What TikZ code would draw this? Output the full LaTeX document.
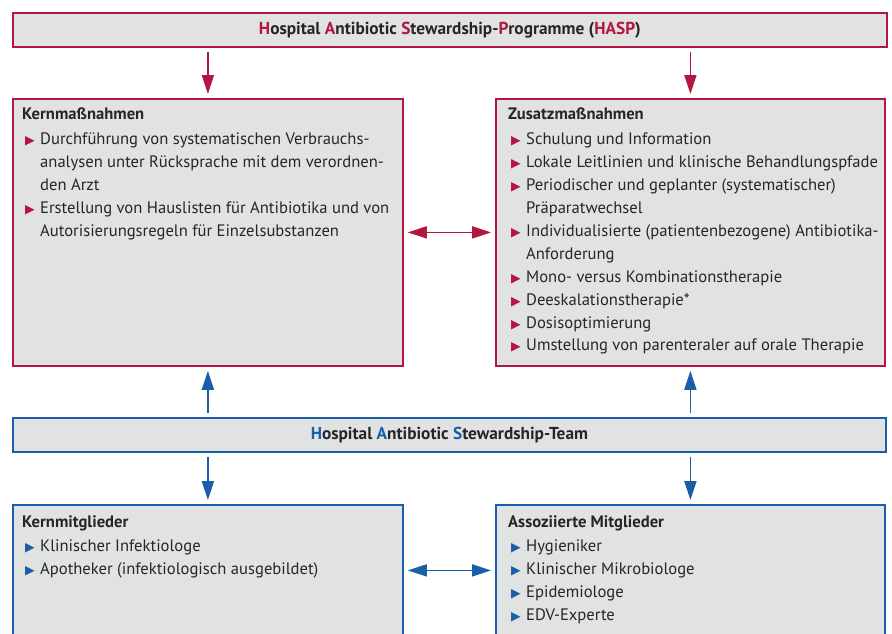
\documentclass[tikz,border=0pt]{standalone}
\usepackage{fontspec}
\setmainfont{PT Sans}
\newfontfamily\symfont{DejaVu Sans}
\usepackage{tikz}
\usetikzlibrary{arrows.meta, positioning}

\definecolor{haspred}{HTML}{B2173F}
\definecolor{teamblue}{HTML}{1B5EA8}
\definecolor{boxgray}{HTML}{E1E2E2}

\newlength{\ind}\setlength{\ind}{15pt}
\newcommand{\rd}[1]{\textcolor{haspred}{#1}}
\newcommand{\bl}[1]{\textcolor{teamblue}{#1}}
\newcommand{\rtri}{\hspace*{3pt}\makebox[\ind][l]{\rd{\symfont\fontsize{12.5}{10}\selectfont ▶}}}
\newcommand{\btri}{\hspace*{3pt}\makebox[\ind][l]{\bl{\symfont\fontsize{12.5}{10}\selectfont ▶}}}
\newcommand{\cont}{\hspace*{18pt}}

\begin{document}
\begin{tikzpicture}[
    x=1pt, y=-1pt,
    redbox/.style={rectangle, draw=haspred, fill=boxgray, line width=1.8pt, inner sep=0pt, anchor=north west},
    bluebox/.style={rectangle, draw=teamblue, fill=boxgray, line width=1.8pt, inner sep=0pt, anchor=north west},
    boxtext/.style={anchor=north west, align=left, inner sep=0pt, text=black!85, font=\fontsize{16.6}{22.9}\selectfont},
    titletext/.style={font=\fontsize{17.3}{18}\selectfont\bfseries, text=black!85},
    redarrow/.style={draw=haspred, line width=1.8pt, -{Triangle[length=19pt, width=12pt]}, shorten >=4pt, shorten <=4pt},
    bluearrow/.style={draw=teamblue, line width=1.8pt, -{Triangle[length=19pt, width=12pt]}, shorten >=4pt, shorten <=4pt}
]
    \useasboundingbox (0,0) rectangle (892,633);
    \clip (0,0) rectangle (892,633);

    % Programme
    \node[redbox, minimum width=874pt, minimum height=34pt] (hasp) at (12,12) {};
    \node[titletext] (haspt) at (hasp.center) {\rd{H}ospital \rd{A}ntibiotic \rd{S}tewardship-\rd{P}rogramme (\rd{HASP})};

    \node[redbox, minimum width=390pt, minimum height=267pt] (kern) at (12,98) {};
    \node[redbox, minimum width=389pt, minimum height=267pt] (zus) at (495,98) {};

    \node[boxtext] (kerntext) at ([xshift=10pt, yshift=-10pt]kern.north west) {%
        \textbf{Kernmaßnahmen}\\[2pt]
        \rtri Durchführung von systematischen Verbrauchs-\\
        \cont analysen unter Rücksprache mit dem verordnen-\\
        \cont den Arzt\\
        \rtri Erstellung von Hauslisten für Antibiotika und von\\
        \cont Autorisierungsregeln für Einzelsubstanzen};

    \node[boxtext] (zustext) at ([xshift=13pt, yshift=-10pt]zus.north west) {%
        \textbf{Zusatzmaßnahmen}\\[2pt]
        \rtri Schulung und Information\\
        \rtri Lokale Leitlinien und klinische Behandlungspfade\\
        \rtri Periodischer und geplanter (systematischer)\\
        \cont Präparatwechsel\\
        \rtri Individualisierte (patientenbezogene) Antibiotika-\\
        \cont Anforderung\\
        \rtri Mono- versus Kombinationstherapie\\
        \rtri Deeskalationstherapie*\\
        \rtri Dosisoptimierung\\
        \rtri Umstellung von parenteraler auf orale Therapie};

    % Team
    \node[bluebox, minimum width=873pt, minimum height=34pt] (team) at (12,417) {};
    \node[titletext] (teamt) at (team.center) {\bl{H}ospital \bl{A}ntibiotic \bl{S}tewardship-Team};

    \node[bluebox, minimum width=390pt, minimum height=131pt] (kernm) at (12,504) {};
    \node[bluebox, minimum width=389pt, minimum height=131pt] (assoz) at (495,504) {};

    \node[boxtext] (kernmtext) at ([xshift=10pt, yshift=-11pt]kernm.north west) {%
        \textbf{Kernmitglieder}\\[2pt]
        \btri Klinischer Infektiologe\\
        \btri Apotheker (infektiologisch ausgebildet)};

    \node[boxtext] (assoztext) at ([xshift=13pt, yshift=-11pt]assoz.north west) {%
        \textbf{Assoziierte Mitglieder}\\[2pt]
        \btri Hygieniker\\
        \btri Klinischer Mikrobiologe\\
        \btri Epidemiologe\\
        \btri EDV-Experte};

    % Pfeile
    \draw[redarrow] (kern.north |- hasp.south) -- (kern.north);
    \draw[redarrow] (zus.north |- hasp.south) -- (zus.north);
    \draw[redarrow, {Triangle[length=19pt, width=12pt]}-{Triangle[length=19pt, width=12pt]}] (kern.east) -- (zus.west);

    \draw[bluearrow] (team.north -| kern.south) -- (kern.south);
    \draw[bluearrow] (team.north -| zus.south) -- (zus.south);
    \draw[bluearrow] (kernm.north |- team.south) -- (kernm.north);
    \draw[bluearrow] (assoz.north |- team.south) -- (assoz.north);
    \draw[bluearrow, {Triangle[length=19pt, width=12pt]}-{Triangle[length=19pt, width=12pt]}] (kernm.east) -- (assoz.west);
\end{tikzpicture}
\end{document}
